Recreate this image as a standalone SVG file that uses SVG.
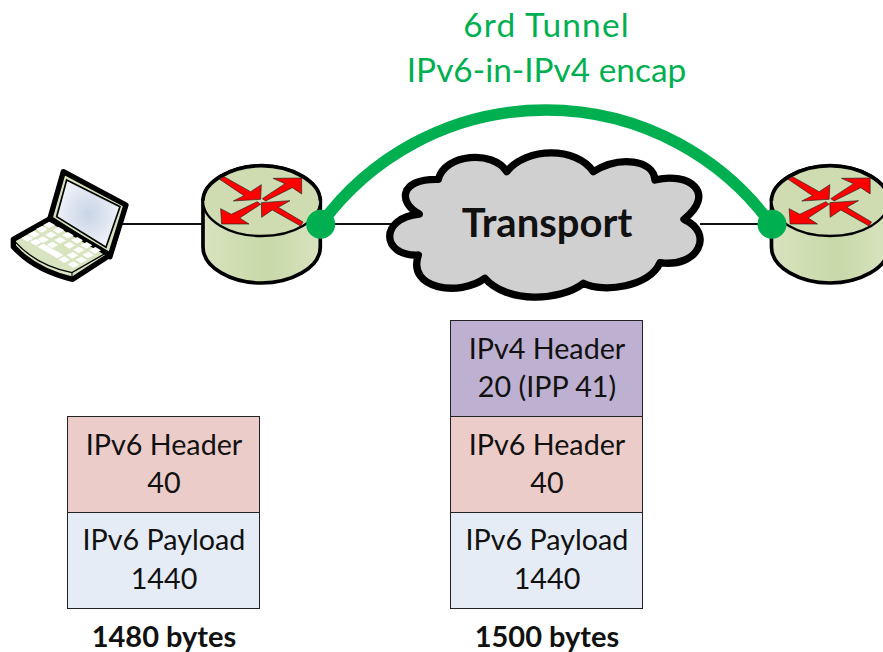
<svg xmlns="http://www.w3.org/2000/svg" width="883" height="652" viewBox="0 0 883 652">
<style>
text{font-family:"Lato","Open Sans","Liberation Sans",sans-serif;text-anchor:middle;fill:#111}
.t{font-size:28.7px}
.b{font-size:29px;font-weight:700}
.g{font-size:33.4px;fill:#00b050}
.box{stroke:#222;stroke-width:1}
.ln{stroke:#111;stroke-width:2;fill:none}
.ar{fill:#f00;stroke:#222;stroke-width:2}
.k{fill:#fff}
</style>
<defs>
<linearGradient id="rg" x1="0" x2="1" y1="0" y2="0"><stop offset="0" stop-color="#d8e3bf"/><stop offset=".55" stop-color="#c8d8a8"/><stop offset="1" stop-color="#d8e3bf"/></linearGradient>
<radialGradient id="sg"><stop offset="0" stop-color="#c8d4e6"/><stop offset="1" stop-color="#eef1f8"/></radialGradient>
<g id="router">
<path d="M612 150V290C612 355 700 399 787 399C875 399 964 355 964 290V150Z" fill="url(#rg)" stroke="#000" stroke-width="11"/>
<ellipse cx="788" cy="152" rx="176" ry="106" fill="#cfdcb2" stroke="#000" stroke-width="7"/>
<path d="M612 152C612 95 700 47 788 47C876 47 964 95 964 152" fill="none" stroke="#000" stroke-width="11"/>
<polygon class="ar" points="662,88 675,80 755,125 787,104 785,148 703,153 735,137"/>
<polygon class="ar" points="790,146 858,101 822,85 908,84 908,132 880,113 800,153"/>
<polygon class="ar" points="775,155 785,163 722,204 750,222 668,222 665,176 697,193"/>
<polygon class="ar" points="787,158 873,152 838,172 912,216 905,228 820,180 788,202"/>
</g>
</defs>
<g id="connectors">
<path class="ln" d="M118 224H205M320 224H392M700 224H772"/>
<path d="M321 224A279 279 0 0 1 771 224" fill="none" stroke="#00b050" stroke-width="11.5"/>
</g>
<g id="laptop" transform="translate(0,150) scale(.3333)">
<polygon points="190,65 378,165 330,320 150,205" fill="#d8e3bf" stroke="#000" stroke-width="16" stroke-linejoin="round"/>
<polygon points="200,90 360,170 318,292 170,200" fill="url(#sg)" stroke="#000" stroke-width="5"/>
<path d="M40 268L148 207L330 315L218 388C150 372 85 340 40 290Z" fill="#d8e3bf" stroke="#000" stroke-width="16" stroke-linejoin="round"/>
<path d="M45 275C90 325 150 355 216 368L325 305" fill="none" stroke="#000" stroke-width="4"/>
<path d="M216 368V388" stroke="#000" stroke-width="3"/>
<g class="k">
<polygon points="130,225 148,215 165,225 147,235"/><polygon points="108,237 126,228 143,238 125,248"/><polygon points="158,240 176,231 193,241 175,251"/><polygon points="186,255 204,246 221,256 203,266"/><polygon points="214,270 232,261 249,271 231,281"/><polygon points="242,285 260,276 277,286 259,296"/><polygon points="268,300 286,291 303,301 285,311"/>
<polygon points="85,252 103,243 120,253 102,263"/><polygon points="135,254 153,245 170,255 152,265"/><polygon points="163,270 181,261 198,271 180,281"/><polygon points="191,285 209,276 226,286 208,296"/><polygon points="219,299 237,290 254,300 236,310"/><polygon points="247,314 265,305 282,315 264,325"/>
<polygon points="65,264 83,255 100,265 82,275"/><polygon points="112,268 130,259 147,269 129,279"/><polygon points="140,284 158,275 175,285 157,295"/><polygon points="200,315 218,306 235,316 217,326"/><polygon points="226,329 244,320 261,330 243,340"/>
<polygon points="90,276 108,267 125,277 107,287"/><polygon points="112,290 130,281 190,315 172,325"/><polygon points="175,328 193,319 210,329 192,339"/><polygon points="203,343 221,334 238,344 220,354"/>
</g>
</g>
<g id="router-left"><use href="#router" transform="translate(-1,150) scale(.3333)"/></g>
<g id="router-right"><use href="#router" transform="translate(567.5,150) scale(.3333)"/></g>
<g id="cloud" transform="translate(370,140) scale(.3333)">
<path d="M148 222C85 190 85 115 205 118C225 40 370 30 410 95C470 20 620 20 670 95C750 45 850 60 855 120C960 95 1040 160 942 238C1035 280 985 385 870 368C840 440 700 460 640 430C570 485 410 490 345 415C270 470 110 450 145 345C35 350 25 235 148 222Z" fill="#d0d0d0" stroke="#000" stroke-width="22" stroke-linejoin="round"/>
</g>
<g id="dot-left"><circle cx="320.7" cy="224.3" r="14.5" fill="#00b050"/></g>
<g id="dot-right"><circle cx="772" cy="224.3" r="14.5" fill="#00b050"/></g>
<g id="title"><text class="g" x="546.5" y="37" letter-spacing="1.2">6rd Tunnel</text><text class="g" x="546.5" y="82">IPv6-in-IPv4 encap</text></g>
<text x="547" y="237" font-size="40" font-weight="700">Transport</text>
<g id="box-ipv6-header-left"><rect class="box" x="67.5" y="416.5" width="192" height="96" fill="#ecccc9"/><text class="t" x="164" y="455">IPv6 Header</text><text class="t" x="164" y="493">40</text></g>
<g id="box-ipv6-payload-left"><rect class="box" x="67.5" y="512.5" width="192" height="96" fill="#e6ecf6"/><text class="t" x="164" y="550">IPv6 Payload</text><text class="t" x="164" y="589">1440</text></g>
<g id="box-ipv4-header"><rect class="box" x="450.5" y="320.5" width="192" height="96" fill="#bdb0d0"/><text class="t" x="547" y="359">IPv4 Header</text><text class="t" x="547" y="397">20 (IPP 41)</text></g>
<g id="box-ipv6-header-right"><rect class="box" x="450.5" y="416.5" width="192" height="96" fill="#ecccc9"/><text class="t" x="547" y="455">IPv6 Header</text><text class="t" x="547" y="493">40</text></g>
<g id="box-ipv6-payload-right"><rect class="box" x="450.5" y="512.5" width="192" height="96" fill="#e6ecf6"/><text class="t" x="547" y="550">IPv6 Payload</text><text class="t" x="547" y="589">1440</text></g>
<text class="b" x="164" y="647">1480 bytes</text>
<text class="b" x="547" y="647">1500 bytes</text>
</svg>
